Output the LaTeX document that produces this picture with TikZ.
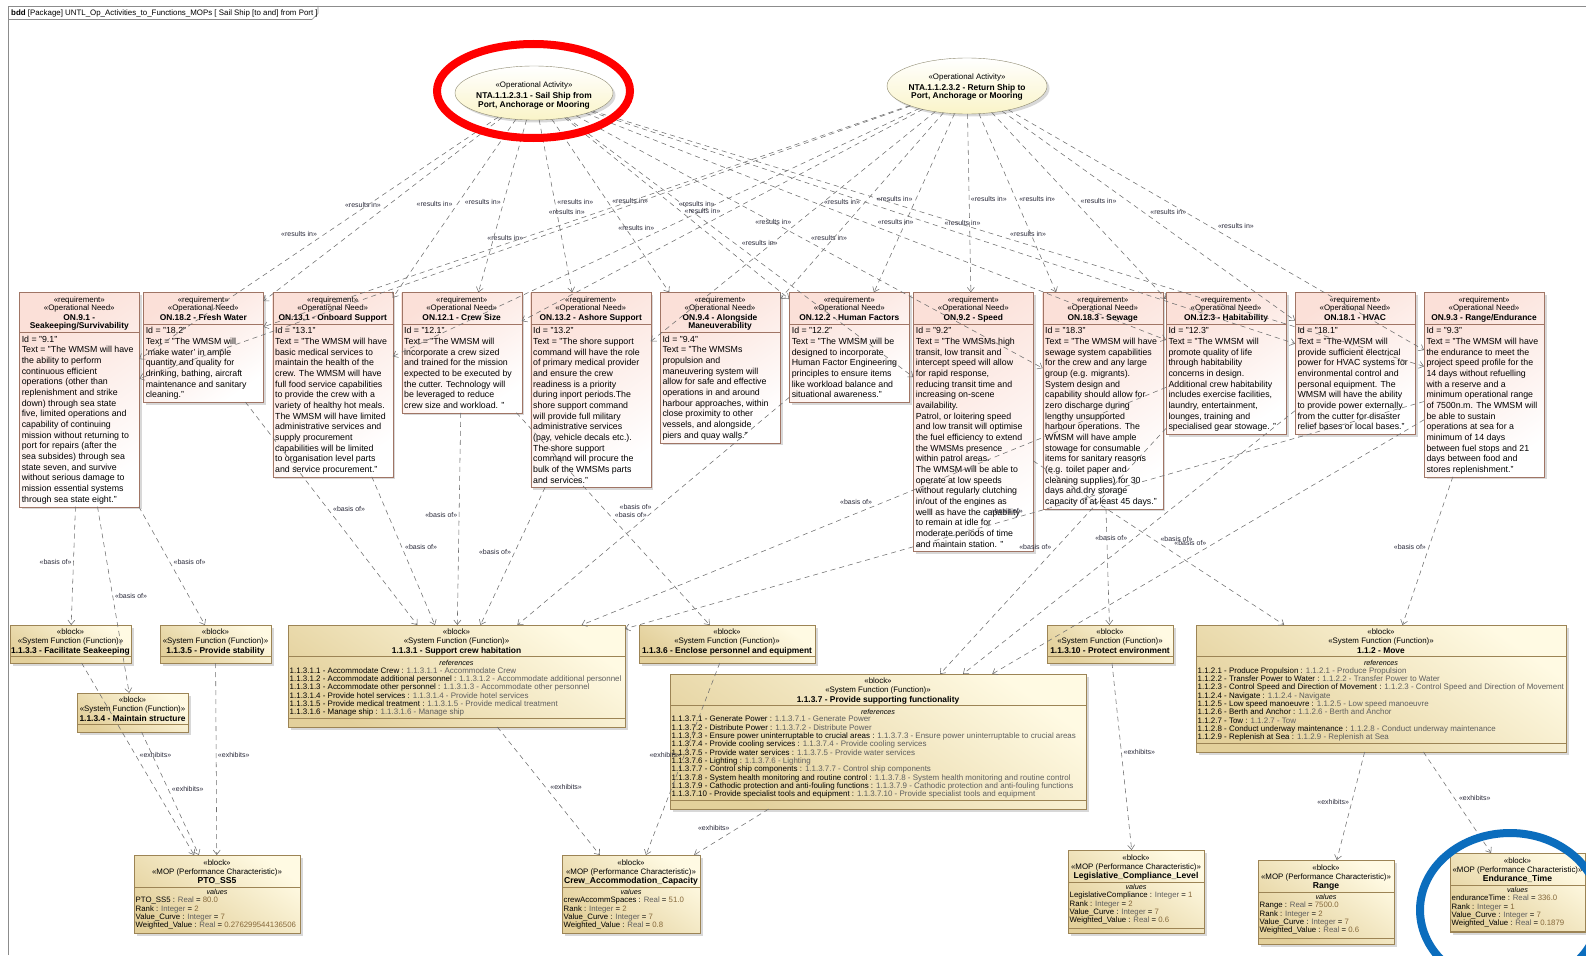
\documentclass[tikz,border=0pt]{standalone}
\usepackage{fontspec}
\setmainfont{Liberation Sans}
\usetikzlibrary{arrows.meta, positioning, shapes.geometric, shadows}

\definecolor{reqpink}{HTML}{FBE0D8}
\definecolor{reqedge}{HTML}{A07565}
\definecolor{blktan}{HTML}{E3D09B}
\definecolor{blklight}{HTML}{FFFAE3}
\definecolor{blkedge}{HTML}{9C8455}
\definecolor{actfill}{HTML}{FAF4C8}
\definecolor{actedge}{HTML}{8E8A70}
\definecolor{depline}{HTML}{6E6E6E}
\definecolor{tagtext}{HTML}{2A2A3A}
\definecolor{refgray}{HTML}{5E5E5E}
\definecolor{valbrown}{HTML}{85683A}
\definecolor{ringred}{HTML}{FF0000}
\definecolor{ringblue}{HTML}{0B6DBD}

\newcommand{\fst}{\fontsize{7.9}{8.3}\selectfont\mdseries}
\newcommand{\fnm}{\fontsize{8.4}{8.4}\selectfont\bfseries}
\newcommand{\fmn}{\fontsize{8.6}{8.6}\selectfont\bfseries}
\newcommand{\fbd}{\fontsize{8.8}{10.67}\selectfont}
\newcommand{\frf}{\fontsize{7.95}{8.33}\selectfont}
\newcommand{\fvl}{\fontsize{7.8}{8.33}\selectfont}
\newcommand{\fit}{\fontsize{7.2}{8}\selectfont\itshape}
\newcommand{\flb}{\fontsize{7}{8}\selectfont}
\newcommand{\ftab}{\fontsize{7.9}{8}\selectfont}

\newcommand{\rf}[1]{#1 : {\color{refgray}#1}}
\newcommand{\vl}[3]{#1 : {\color{refgray}#2} = {\color{valbrown}#3}}

% requirement box: name, left x, header height, body lines, title, text
\newcommand{\reqnode}[6]{
  \node[req, minimum height=#3+10.67*#4+3.7] (#1) at (#2,292.3) {};
  \node[head] (#1h) at ([yshift=-3.9pt]#1.north) {«requirement»\\«Operational Need»\\[1.7pt]\fnm #5};
  \draw[reqsep] ([yshift=-#3pt]#1.north west) -- ([yshift=-#3pt]#1.north east);
  \node[body] (#1b) at ([xshift=2.3pt,yshift=-#3pt-3.4pt]#1.north west) {#6};
}

% function block: name, x, y, width, height, title
\newcommand{\fnbox}[6]{
  \node[blk, minimum width=#4, minimum height=#5] (#1) at (#2,#3) {};
  \node[head] (#1h) at ([yshift=-3.8pt]#1.north) {«block»\\«System Function (Function)»\\[2pt]\fnm #6};
  \draw[blksep] ([yshift=-30.7pt]#1.north west) -- ([yshift=-30.7pt]#1.north east);
}

% references compartment of a function block
\newcommand{\fnrefs}[2]{
  \draw[blksep] ([yshift=9pt]#1.south west) -- ([yshift=9pt]#1.south east);
  \node[mid, font=\fit] (#1r) at ([yshift=-37.7pt]#1.north) {references};
  \node[body, font=\frf] (#1l) at ([xshift=1.5pt,yshift=-42.1pt]#1.north west) {#2};
}

% MOP block: name, x, y, width, height, title, values
\newcommand{\mopbox}[7]{
  \node[blk, minimum width=#4, minimum height=#5] (#1) at (#2,#3) {};
  \node[head] (#1h) at ([yshift=-4.8pt]#1.north) {«block»\\«MOP (Performance Characteristic)»\\[1.4pt]\fmn #6};
  \draw[blksep] ([yshift=-31.7pt]#1.north west) -- ([yshift=-31.7pt]#1.north east);
  \draw[blksep] ([yshift=-78pt]#1.north west) -- ([yshift=-78pt]#1.north east);
  \node[mid, font=\fit] (#1v) at ([yshift=-37.3pt]#1.north) {values};
  \node[body, font=\fvl] (#1l) at ([xshift=1.5pt,yshift=-42.1pt]#1.north west) {#7};
}

\begin{document}
\begin{tikzpicture}[
  x=1pt, y=-1pt,
  req/.style={draw=reqedge, anchor=north west, minimum width=120, inner sep=0, outer sep=0,
    top color=reqpink, bottom color=white, shading angle=35,
    drop shadow={shadow xshift=2.5pt, shadow yshift=-2.5pt, opacity=0.3}},
  blk/.style={draw=blkedge, anchor=north west, inner sep=0, outer sep=0,
    top color=blklight, bottom color=blktan, shading angle=-35,
    drop shadow={shadow xshift=2.5pt, shadow yshift=-2.5pt, opacity=0.3}},
  act/.style={ellipse, draw=actedge, inner sep=0, outer sep=0,
    top color=white, bottom color=actfill,
    drop shadow={shadow xshift=2.5pt, shadow yshift=-2.5pt, opacity=0.3}},
  head/.style={anchor=north, align=center, inner sep=0, font=\fst},
  body/.style={anchor=north west, align=left, inner sep=0, font=\fbd},
  mid/.style={align=center, inner sep=0},
  reqsep/.style={draw=reqedge},
  blksep/.style={draw=blkedge},
  frame/.style={draw=black!45, line width=0.6pt},
  dep/.style={draw=depline, line width=0.55pt, dash pattern=on 5pt off 4pt,
    -{Straight Barb[length=4.5pt, width=7pt]}},
  tag/.style={midway, anchor=#1, inner sep=1.5pt, font=\flb, text=tagtext},
  ring/.style={line width=8pt}
]
\fill[white] (0,0) rectangle (1586,955);
\useasboundingbox (0,0) rectangle (1586,955);
\clip (0,0) rectangle (1586,955);

% Frame
\draw[frame] (8,955) -- (8,6) -- (1586,6);
\draw[frame] (8,19.5) -- (312,19.5) -- (318,13.5) -- (318,6);
\node[anchor=west, inner sep=0, font=\ftab] (tab) at (11,13) {\textbf{bdd} [Package] UNTL\_Op\_Activities\_to\_Functions\_MOPs [ Sail Ship [to and] from Port ]};

% Activities
\node[act, minimum width=158, minimum height=54] (e1) at (534,93) {};
\node[mid, font=\fnm] (e1t) at ([yshift=-2.5pt]e1) {\fst «Operational Activity»\\[2.6pt]\fnm NTA.1.1.2.3.1 - Sail Ship from\\\fnm Port, Anchorage or Mooring};
\node[act, minimum width=160, minimum height=56] (e2) at (967,86) {};
\node[mid, font=\fnm] (e2t) at ([yshift=-0.8pt]e2) {\fst «Operational Activity»\\[2.6pt]\fnm NTA.1.1.2.3.2 - Return Ship to\\\fnm Port, Anchorage or Mooring};

% Operational needs
\reqnode{r1}{19.3}{40}{16}{ON.9.1 -\\\fnm Seakeeping/Survivability}{Id = "9.1"\\Text = "The WMSM will have\\the ability to perform\\continuous efficient\\operations (other than\\replenishment and strike\\down) through sea state\\five, limited operations and\\capability of continuing\\mission without returning to\\port for repairs (after the\\sea subsides) through sea\\state seven, and survive\\without serious damage to\\mission essential systems\\through sea state eight."}
\reqnode{r2}{143.3}{31.4}{7}{ON.18.2 - Fresh Water}{Id = "18.2"\\Text = "The WMSM will\\'make water' in ample\\quantity and quality for\\drinking, bathing, aircraft\\maintenance and sanitary\\cleaning."}
\reqnode{r3}{272.7}{31.4}{14}{ON.13.1 - Onboard Support}{Id = "13.1"\\Text = "The WMSM will have\\basic medical services to\\maintain the health of the\\crew. The WMSM will have\\full food service capabilities\\to provide the crew with a\\variety of healthy hot meals.\\The WMSM will have limited\\administrative services and\\supply procurement\\capabilities will be limited\\to organisation level parts\\and service procurement."}
\reqnode{r4}{401.7}{31.4}{8}{ON.12.1 - Crew Size}{Id = "12.1"\\Text = "The WMSM will\\incorporate a crew sized\\and trained for the mission\\expected to be executed by\\the cutter. Technology will\\be leveraged to reduce\\crew size and workload. "}
\reqnode{r5}{530.7}{31.4}{15}{ON.13.2 - Ashore Support}{Id = "13.2"\\Text = "The shore support\\command will have the role\\of primary medical provider\\and ensure the crew\\readiness is a priority\\during inport periods.The\\shore support command\\will provide full military\\administrative services\\(pay, vehicle decals etc.).\\The shore support\\command will procure the\\bulk of the WMSMs parts\\and services."}
\reqnode{r6}{660}{40}{10}{ON.9.4 - Alongside\\\fnm Maneuverability}{Id = "9.4"\\Text = "The WMSMs\\propulsion and\\maneuvering system will\\allow for safe and effective\\operations in and around\\harbour approaches, within\\close proximity to other\\vessels, and alongside\\piers and quay walls."}
\reqnode{r7}{789.3}{31.4}{7}{ON.12.2 - Human Factors}{Id = "12.2"\\Text = "The WMSM will be\\designed to incorporate\\Human Factor Engineering\\principles to ensure items\\like workload balance and\\situational awareness."}
\reqnode{r8}{913.3}{31.4}{21}{ON.9.2 - Speed}{Id = "9.2"\\Text = "The WMSMs high\\transit, low transit and\\intercept speed will allow\\for rapid response,\\reducing transit time and\\increasing on-scene\\availability.\\Patrol, or loitering speed\\and low transit will optimise\\the fuel efficiency to extend\\the WMSMs presence\\within patrol areas.\\The WMSM will be able to\\operate at low speeds\\without regularly clutching\\in/out of the engines as\\welll as have the capability\\to remain at idle for\\moderate periods of time\\and maintain station. "}
\reqnode{r9}{1042.7}{31.4}{17}{ON.18.3 - Sewage}{Id = "18.3"\\Text = "The WMSM will have\\sewage system capabilities\\for the crew and any large\\group (e.g. migrants).\\System design and\\capability should allow for\\zero discharge during\\lengthy unsupported\\harbour operations. The\\WMSM will have ample\\stowage for consumable\\items for sanitary reasons\\(e.g. toilet paper and\\cleaning supplies) for 30\\days and dry storage\\capacity of at least 45 days."}
\reqnode{r10}{1166}{31.4}{10}{ON.12.3 - Habitability}{Id = "12.3"\\Text = "The WMSM will\\promote quality of life\\through habitability\\concerns in design.\\Additional crew habitability\\includes exercise facilities,\\laundry, entertainment,\\lounges, training and\\specialised gear stowage. "}
\reqnode{r11}{1295}{31.4}{10}{ON.18.1 - HVAC}{Id = "18.1"\\Text = "The WMSM will\\provide sufficient electrical\\power for HVAC systems for\\environmental control and\\personal equipment. The\\WMSM will have the ability\\to provide power externally\\from the cutter for disaster\\relief bases or local bases."}
\reqnode{r12}{1424}{31.4}{14}{ON.9.3 - Range/Endurance}{Id = "9.3"\\Text = "The WMSM will have\\the endurance to meet the\\project speed profile for the\\14 days without refuelling\\with a reserve and a\\minimum operational range\\of 7500n.m. The WMSM will\\be able to sustain\\operations at sea for a\\minimum of 14 days\\between fuel stops and 21\\days between food and\\stores replenishment."}

% System functions
\fnbox{f1}{10}{625}{121}{38}{1.1.3.3 - Facilitate Seakeeping}
\fnbox{f2}{160}{625}{111}{38}{1.1.3.5 - Provide stability}
\fnbox{f3}{288}{625}{337}{102}{1.1.3.1 - Support crew habitation}
\fnrefs{f3}{\rf{1.1.3.1.1 - Accommodate Crew}\\\rf{1.1.3.1.2 - Accommodate additional personnel}\\\rf{1.1.3.1.3 - Accommodate other personnel}\\\rf{1.1.3.1.4 - Provide hotel services}\\\rf{1.1.3.1.5 - Provide medical treatment}\\\rf{1.1.3.1.6 - Manage ship}}
\fnbox{f4}{639}{625}{176}{38}{1.1.3.6 - Enclose personnel and equipment}
\fnbox{f5}{1047}{625}{126}{38}{1.1.3.10 - Protect environment}
\fnbox{f6}{1196}{625}{370}{127}{1.1.2 - Move}
\fnrefs{f6}{\rf{1.1.2.1 - Produce Propulsion}\\\rf{1.1.2.2 - Transfer Power to Water}\\\rf{1.1.2.3 - Control Speed and Direction of Movement}\\\rf{1.1.2.4 - Navigate}\\\rf{1.1.2.5 - Low speed manoeuvre}\\\rf{1.1.2.6 - Berth and Anchor}\\\rf{1.1.2.7 - Tow}\\\rf{1.1.2.8 - Conduct underway maintenance}\\\rf{1.1.2.9 - Replenish at Sea}}
\fnbox{f7}{77}{693}{111}{39}{1.1.3.4 - Maintain structure}
\fnbox{f8}{670}{674}{416}{135}{1.1.3.7 - Provide supporting functionality}
\fnrefs{f8}{\rf{1.1.3.7.1 - Generate Power}\\\rf{1.1.3.7.2 - Distribute Power}\\\rf{1.1.3.7.3 - Ensure power uninterruptable to crucial areas}\\\rf{1.1.3.7.4 - Provide cooling services}\\\rf{1.1.3.7.5 - Provide water services}\\\rf{1.1.3.7.6 - Lighting}\\\rf{1.1.3.7.7 - Control ship components}\\\rf{1.1.3.7.8 - System health monitoring and routine control}\\\rf{1.1.3.7.9 - Cathodic protection and anti-fouling functions}\\\rf{1.1.3.7.10 - Provide specialist tools and equipment}}

% MOPs
\mopbox{m1}{134}{855}{166}{78}{PTO\_SS5}{\vl{PTO\_SS5}{Real}{80.0}\\\vl{Rank}{Integer}{2}\\\vl{Value\_Curve}{Integer}{7}\\\vl{Weighted\_Value}{Real}{0.276299544136506}}
\mopbox{m2}{562}{855}{138}{78}{Crew\_Accommodation\_Capacity}{\vl{crewAccommSpaces}{Real}{51.0}\\\vl{Rank}{Integer}{2}\\\vl{Value\_Curve}{Integer}{7}\\\vl{Weighted\_Value}{Real}{0.8}}
\mopbox{m3}{1068}{850}{136}{83}{Legislative\_Compliance\_Level}{\vl{LegislativeCompliance}{Integer}{1}\\\vl{Rank}{Integer}{2}\\\vl{Value\_Curve}{Integer}{7}\\\vl{Weighted\_Value}{Real}{0.6}}
\mopbox{m4}{1258}{860}{136}{84}{Range}{\vl{Range}{Real}{7500.0}\\\vl{Rank}{Integer}{2}\\\vl{Value\_Curve}{Integer}{7}\\\vl{Weighted\_Value}{Real}{0.6}}
\mopbox{m5}{1450}{853}{135}{79}{Endurance\_Time}{\vl{enduranceTime}{Real}{336.0}\\\vl{Rank}{Integer}{1}\\\vl{Value\_Curve}{Integer}{7}\\\vl{Weighted\_Value}{Real}{0.1879}}

% Pointers
\foreach \s/\t/\a in {e1/r1/south east, e1/r2/south east, e1/r3/south east, e1/r4/south east,
    e1/r5/south west, e1/r6/south west, e1/r7/south west, e1/r8/south west,
    e1/r9/south west, e1/r10/south west, e1/r11/south west, e1/r12/south west,
    e2/r1/south east, e2/r2/south east, e2/r3/south east, e2/r4/south east,
    e2/r5/south east, e2/r6/south east, e2/r7/south east, e2/r8/south west,
    e2/r9/south west, e2/r10/south west, e2/r11/south west, e2/r12/south west}
  \draw[dep] (\s) -- node[tag=\a] (\s-\t) {«results in»} (\t);
\foreach \s/\t/\a in {r1/f1/south east, r1/f2/south west, r1/f7/south west,
    r2/f3/south west, r3/f3/south west, r4/f3/south east, r5/f3/south east,
    r7/f3/south east, r10/f3/south east, r12/f3/south east, r4/f4/south west,
    r10/f8/south east, r11/f8/south east, r12/f8/south east, r12/f6/south east,
    r8/f6/south west}
  \draw[dep] (\s) -- node[tag=\a] (\s-\t) {«basis of»} (\t);
\draw[dep] (r9) -- (f5);
\foreach \s/\t/\a in {f1/m1/south west, f7/m1/south west, f2/m1/south west,
    f3/m2/south west, f4/m2/south east, f8/m2/south east, f5/m3/south west,
    f6/m4/south east, f6/m5/south west}
  \draw[dep] (\s) -- node[tag=\a] (\s-\t) {«exhibits»} (\t);

% Highlights
\draw[ring, ringred] (533.5,91) ellipse [x radius=96.5, y radius=47];
\draw[ring, ringblue] (1510,910) ellipse [x radius=90, y radius=77];
\end{tikzpicture}
\end{document}
